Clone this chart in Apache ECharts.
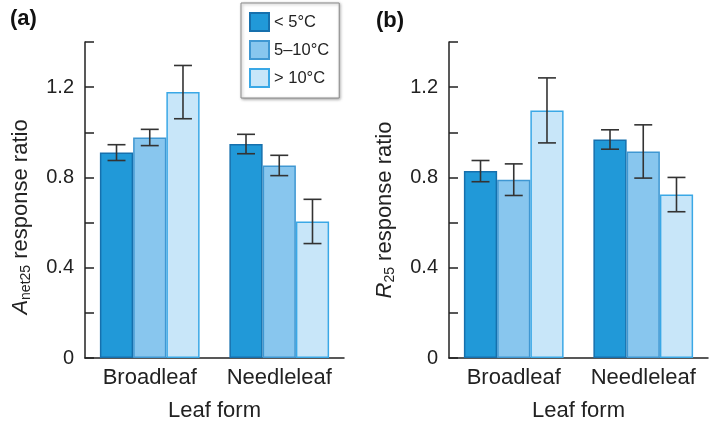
<!DOCTYPE html>
<html><head><meta charset="utf-8">
<script src="https://cdn.jsdelivr.net/npm/echarts@6/dist/echarts.min.js"></script>
<style>html,body{margin:0;padding:0;background:#fff}#c{width:709px;height:427px}</style>
</head><body><div id="c"></div>
<script>
const categories = ['Broadleaf', 'Needleleaf'];
const groupNames = ['< 5°C', '5–10°C', '> 10°C'];
const yTickLabels = ['0', '0.4', '0.8', '1.2'];
// Panel (a): A_net25 response ratio (mean, ± error)
const anetCold = [0.91, 0.948];
const anetColdErr = [0.035, 0.043];
const anetMid = [0.977, 0.853];
const anetMidErr = [0.036, 0.045];
const anetWarm = [1.178, 0.605];
const anetWarmErr = [0.118, 0.098];
// Panel (b): R25 response ratio
const rCold = [0.828, 0.968];
const rColdErr = [0.047, 0.043];
const rMid = [0.79, 0.915];
const rMidErr = [0.07, 0.118];
const rWarm = [1.097, 0.724];
const rWarmErr = [0.144, 0.076];

const FONT = "'Liberation Sans', Arial, Helvetica, sans-serif";
const fills = ['#2199d8', '#88c6ee', '#c8e6f9'];
const borders = ['#1670ad', '#3f97d2', '#3aa8e6'];
const GAP = 0.23;

function fmt(v) {
  const s = v === 0 ? '0' : v.toFixed(1);
  return yTickLabels.indexOf(s) >= 0 ? s : '';
}

function xAxisOf(gi) {
  return {
    type: 'category', gridIndex: gi, data: categories,
    axisLine: { lineStyle: { color: '#222', width: 1.5 } },
    axisTick: { show: false },
    axisLabel: { fontFamily: FONT, fontSize: 22, color: '#222', margin: 9, interval: 0, hideOverlap: false },
    name: 'Leaf form', nameLocation: 'middle', nameGap: 42,
    nameTextStyle: { fontFamily: FONT, fontSize: 22, color: '#222' }
  };
}
function yAxisOf(gi, nameRich, name, shift) {
  return {
    type: 'value', gridIndex: gi, min: 0, max: 1.4, interval: 0.2,
    splitLine: { show: false },
    axisLine: { show: true, lineStyle: { color: '#222', width: 1.5 } },
    axisTick: { show: true, inside: true, length: 9, lineStyle: { color: '#222', width: 1.5 } },
    axisLabel: { fontFamily: FONT, fontSize: 20, color: '#222', margin: 11, formatter: fmt, showMaxLabel: true },
    name: name, nameLocation: 'middle', nameGap: 52,
    nameTextStyle: { fontFamily: FONT, fontSize: 22, color: '#222', padding: [0, shift, 0, 0], rich: nameRich }
  };
}

function barSeries(gi, idx, data) {
  return {
    type: 'bar', name: groupNames[idx], xAxisIndex: gi, yAxisIndex: gi, data: data,
    barGap: '0%', barCategoryGap: (GAP * 100) + '%',
    itemStyle: { color: fills[idx], borderColor: borders[idx], borderWidth: 1.5 },
    z: 2
  };
}
function errSeries(gi, idx, means, errs) {
  return {
    type: 'custom', name: 'err' + gi + idx, xAxisIndex: gi, yAxisIndex: gi,
    data: means.map((m, i) => [i, m, errs[i]]),
    z: 5, silent: true,
    renderItem: function (params, api) {
      const x = api.value(0), m = api.value(1), e = api.value(2);
      const band = api.size([1, 0])[0];
      const bw = band * (1 - GAP) / 3;
      const cx = api.coord([x, m])[0] + (idx - 1) * bw;
      const top = api.coord([x, m + e])[1];
      const bot = api.coord([x, m - e])[1];
      const h = bw * 0.27;
      const st = { stroke: '#333', lineWidth: 1.6 };
      return { type: 'group', children: [
        { type: 'line', shape: { x1: cx, y1: top, x2: cx, y2: bot }, style: st },
        { type: 'line', shape: { x1: cx - h, y1: top, x2: cx + h, y2: top }, style: st },
        { type: 'line', shape: { x1: cx - h, y1: bot, x2: cx + h, y2: bot }, style: st }
      ]};
    }
  };
}

const richA = {
  i: { fontFamily: FONT, fontSize: 22, fontStyle: 'italic', color: '#222' },
  s: { fontFamily: FONT, fontSize: 14, color: '#222', padding: [10, 0, 0, 0] },
  n: { fontFamily: FONT, fontSize: 22, color: '#222' }
};

const chart = echarts.init(document.getElementById('c'), null, { renderer: 'canvas' });
chart.setOption({
  animation: false,
  backgroundColor: '#fff',
  title: [
    { text: '(a)', left: 5, top: 3, textStyle: { fontFamily: FONT, fontSize: 22, fontWeight: 'bold', color: '#111' } },
    { text: '(b)', left: 371, top: 5, textStyle: { fontFamily: FONT, fontSize: 22, fontWeight: 'bold', color: '#111' } }
  ],
  legend: {
    data: groupNames, orient: 'vertical', left: 241, top: 3, icon: 'rect',
    backgroundColor: '#fff', borderColor: '#8a8a8a', borderWidth: 1,
    shadowColor: 'rgba(0,0,0,0.35)', shadowBlur: 3, shadowOffsetX: 1, shadowOffsetY: 1,
    padding: [9, 10, 10, 8], itemWidth: 19, itemHeight: 18, itemGap: 8,
    textStyle: { fontFamily: FONT, fontSize: 16.5, color: '#222' }
  },
  grid: [
    { left: 85, top: 42, width: 259, height: 317 },
    { left: 449, top: 42, width: 259, height: 317 }
  ],
  xAxis: [xAxisOf(0), xAxisOf(1)],
  yAxis: [
    yAxisOf(0, richA, '{i|A}{s|net25}{n| response ratio}', 34),
    yAxisOf(1, richA, '{i|R}{s|25}{n| response ratio}', 20)
  ],
  series: [
    barSeries(0, 0, anetCold), barSeries(0, 1, anetMid), barSeries(0, 2, anetWarm),
    barSeries(1, 0, rCold), barSeries(1, 1, rMid), barSeries(1, 2, rWarm),
    errSeries(0, 0, anetCold, anetColdErr), errSeries(0, 1, anetMid, anetMidErr), errSeries(0, 2, anetWarm, anetWarmErr),
    errSeries(1, 0, rCold, rColdErr), errSeries(1, 1, rMid, rMidErr), errSeries(1, 2, rWarm, rWarmErr)
  ]
});
</script></body></html>
